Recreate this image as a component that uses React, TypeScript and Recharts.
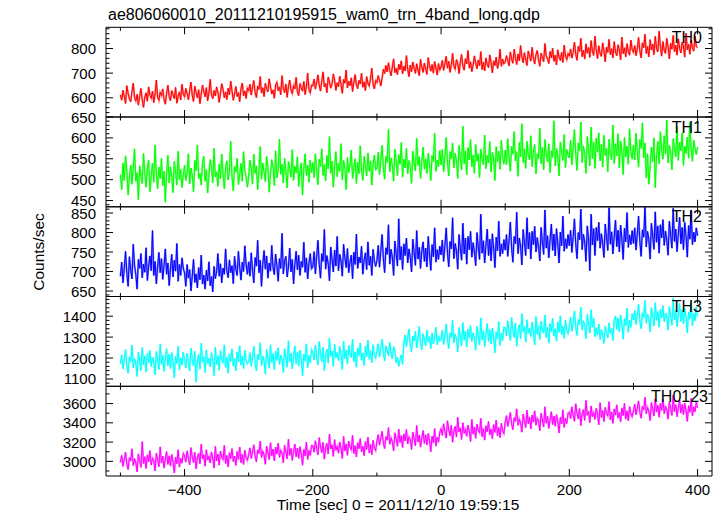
import React from "react";
import { LineChart, Line, XAxis, YAxis } from "recharts";

const W = 723;
const H = 516;
const FONT = "'Liberation Sans', Arial, Helvetica, sans-serif";

// time bins (sec), 2-s bins from -500 to 400
const timeStart = -500;
const binSize = 2;

const th0Values = [
  612, 590, 631, 604, 577, 649, 618, 596, 583, 625,
  659, 601, 587, 614, 570, 607, 638, 592, 561, 603,
  620, 586, 644, 611, 598, 627, 580, 615, 672, 603,
  589, 622, 609, 636, 594, 574, 617, 651, 605, 588,
  629, 613, 597, 642, 578, 606, 624, 591, 655, 616,
  603, 638, 617, 592, 629, 664, 610, 585, 647, 621,
  599, 633, 576, 615, 652, 626, 604, 641, 588, 619,
  675, 612, 596, 630, 607, 644, 623, 581, 618, 657,
  635, 600, 624, 593, 639, 612, 668, 627, 590, 616,
  646, 605, 621, 584, 637, 660, 609, 628, 597, 640,
  628, 655, 611, 643, 670, 622, 601, 648, 634, 686,
  619, 641, 605, 659, 637, 624, 677, 646, 615, 632,
  598, 652, 663, 629, 644, 612, 690, 638, 621, 656,
  602, 645, 672, 631, 617, 649, 636, 683, 624, 609,
  658, 641, 627, 666, 613, 647, 700, 633, 620, 651,
  648, 676, 635, 662, 693, 651, 627, 669, 705, 644,
  658, 621, 684, 666, 639, 655, 697, 672, 630, 661,
  645, 688, 653, 618, 675, 659, 712, 640, 667, 649,
  681, 625, 663, 694, 652, 637, 671, 656, 700, 643,
  665, 629, 686, 658, 647, 678, 720, 654, 636, 670,
  662, 690, 671, 648, 679, 716, 698, 731, 705, 742,
  711, 689, 725, 758, 702, 719, 694, 736, 714, 750,
  697, 728, 709, 771, 715, 686, 733, 706, 745, 720,
  699, 738, 712, 690, 756, 724, 703, 741, 717, 695,
  763, 729, 708, 735, 700, 747, 721, 692, 739, 713,
  725, 752, 711, 739, 768, 720, 748, 703, 734, 781,
  727, 716, 755, 740, 698, 744, 776, 729, 712, 759,
  737, 792, 721, 746, 706, 733, 770, 741, 718, 753,
  730, 787, 714, 745, 709, 762, 736, 722, 774, 743,
  701, 750, 731, 765, 719, 742, 797, 728, 757, 738,
  744, 771, 752, 729, 786, 758, 740, 797, 763, 735,
  778, 750, 812, 766, 742, 783, 756, 731, 790, 768,
  749, 805, 761, 737, 775, 792, 754, 728, 781, 765,
  746, 820, 770, 757, 739, 788, 762, 801, 748, 773,
  733, 795, 767, 751, 784, 743, 814, 769, 755, 779,
  770, 798, 761, 785, 826, 776, 752, 809, 788, 841,
  767, 793, 757, 819, 781, 804, 764, 832, 789, 772,
  850, 795, 759, 811, 780, 768, 823, 791, 746, 806,
  784, 837, 775, 799, 762, 828, 786, 771, 815, 794,
  754, 846, 779, 803, 766, 820, 787, 773, 834, 796,
  784, 812, 771, 799, 845, 790, 762, 823, 803, 858,
  779, 808, 766, 836, 794, 818, 775, 849, 801, 786,
  870, 809, 769, 828, 792, 780, 841, 806, 758, 821,
  797, 853, 787, 813, 773, 839, 800, 782, 826, 810,
  765, 862, 795, 817, 777, 833, 804, 789, 851, 808,
  803,
];

const th1Values = [
  512, 476, 540, 498, 557, 521, 463, 505, 535, 489,
  529, 574, 496, 517, 452, 533, 508, 491, 563, 515,
  482, 528, 547, 471, 510, 539, 494, 583, 513, 478,
  530, 503, 551, 486, 520, 446, 516, 558, 492, 531,
  506, 469, 544, 518, 487, 568, 500, 525, 481, 509,
  535, 498, 517, 562, 490, 528, 509, 471, 546, 521,
  583, 502, 515, 487, 540, 556, 496, 524, 468, 511,
  548, 530, 493, 575, 506, 519, 484, 537, 502, 561,
  514, 478, 529, 545, 499, 520, 592, 507, 473, 532,
  518, 551, 488, 512, 539, 496, 567, 523, 505, 482,
  508, 547, 526, 489, 561, 515, 533, 476, 522, 579,
  501, 540, 518, 495, 556, 529, 470, 512, 548, 531,
  486, 569, 504, 524, 597, 513, 537, 492, 551, 519,
  480, 543, 527, 506, 572, 498, 532, 516, 555, 484,
  521, 540, 463, 528, 562, 510, 535, 494, 547, 517,
  541, 505, 562, 523, 488, 549, 531, 574, 510, 536,
  497, 558, 526, 603, 515, 544, 482, 532, 567, 507,
  539, 520, 586, 499, 546, 528, 476, 553, 517, 535,
  571, 503, 529, 550, 491, 542, 514, 581, 522, 498,
  556, 533, 509, 564, 520, 545, 487, 537, 559, 524,
  527, 566, 512, 548, 582, 530, 501, 556, 541, 620,
  519, 552, 535, 496, 573, 544, 510, 560, 537, 589,
  506, 549, 528, 575, 514, 546, 532, 491, 568, 540,
  521, 599, 534, 555, 503, 542, 578, 525, 550, 515,
  563, 536, 498, 558, 543, 611, 520, 547, 531, 570,
  535, 572, 519, 556, 601, 541, 509, 567, 550, 588,
  528, 563, 545, 503, 582, 553, 523, 628, 538, 569,
  512, 577, 547, 596, 531, 559, 515, 584, 544, 562,
  505, 573, 549, 536, 607, 526, 558, 540, 591, 518,
  565, 552, 498, 579, 543, 568, 525, 594, 554, 537,
  571, 536, 598, 552, 520, 580, 561, 615, 545, 567,
  508, 589, 555, 634, 541, 574, 527, 592, 558, 548,
  605, 531, 566, 584, 514, 562, 550, 623, 538, 577,
  524, 596, 560, 543, 586, 517, 569, 553, 641, 533,
  575, 556, 509, 590, 564, 546, 608, 529, 572, 559,
  552, 594, 536, 578, 620, 560, 522, 588, 569, 638,
  541, 581, 563, 515, 603, 572, 533, 626, 550, 590,
  527, 599, 566, 612, 545, 584, 530, 606, 558, 575,
  519, 597, 561, 548, 631, 539, 586, 557, 610, 528,
  592, 570, 512, 601, 555, 580, 537, 622, 567, 549,
  583, 547, 611, 566, 530, 596, 575, 636, 552, 588,
  504, 562, 489, 531, 578, 543, 600, 481, 557, 592,
  538, 615, 571, 549, 605, 561, 643, 540, 582, 567,
  523, 598, 574, 555, 627, 546, 589, 569, 612, 534,
  580, 563, 602, 551, 638, 572, 544, 594, 576, 560,
  578,
];

const th2Values = [
  688, 724, 671, 709, 752, 695, 662, 738, 705, 681,
  770, 716, 692, 655, 731, 708, 746, 684, 719, 698,
  761, 677, 713, 740, 702, 805, 690, 726, 668, 711,
  749, 697, 733, 680, 715, 758, 693, 722, 664, 707,
  744, 686, 729, 701, 772, 675, 718, 690, 735, 709,
  696, 662, 718, 683, 705, 650, 689, 731, 672, 694,
  658, 710, 679, 742, 668, 691, 655, 703, 676, 725,
  664, 687, 648, 713, 682, 699, 746, 688, 720, 671,
  709, 693, 758, 702, 684, 730, 697, 715, 669, 739,
  706, 690, 752, 711, 678, 724, 700, 766, 717, 693,
  725, 688, 748, 703, 671, 736, 714, 780, 697, 729,
  662, 719, 754, 706, 740, 683, 722, 701, 767, 710,
  692, 745, 716, 675, 733, 708, 798, 694, 727, 739,
  686, 712, 760, 699, 731, 668, 718, 752, 704, 742,
  690, 726, 711, 775, 698, 735, 681, 721, 746, 707,
  712, 751, 694, 738, 780, 719, 683, 746, 726, 808,
  706, 741, 720, 676, 763, 731, 699, 755, 714, 790,
  702, 744, 727, 688, 770, 735, 710, 759, 697, 724,
  742, 681, 750, 718, 796, 708, 737, 722, 765, 693,
  729, 748, 705, 776, 716, 739, 690, 757, 728, 713,
  728, 767, 711, 752, 795, 733, 697, 761, 744, 820,
  719, 757, 737, 690, 778, 746, 714, 835, 730, 764,
  705, 771, 741, 786, 722, 758, 736, 699, 783, 749,
  716, 805, 732, 762, 708, 754, 776, 726, 760, 712,
  790, 743, 703, 769, 738, 812, 724, 756, 731, 765,
  743, 781, 726, 766, 812, 748, 712, 777, 758, 838,
  733, 772, 752, 706, 795, 761, 729, 824, 745, 786,
  719, 790, 756, 803, 737, 774, 750, 715, 800, 764,
  731, 847, 747, 779, 722, 768, 809, 741, 783, 727,
  797, 760, 710, 788, 753, 829, 739, 771, 746, 782,
  755, 795, 739, 779, 827, 761, 724, 790, 771, 852,
  746, 786, 765, 717, 808, 774, 741, 838, 758, 800,
  732, 803, 769, 816, 750, 787, 763, 727, 813, 777,
  744, 858, 760, 792, 735, 781, 822, 754, 796, 740,
  810, 773, 722, 801, 766, 842, 752, 784, 759, 795,
  766, 806, 749, 789, 835, 771, 733, 800, 781, 860,
  756, 796, 775, 726, 817, 784, 702, 847, 768, 810,
  741, 813, 779, 826, 760, 797, 773, 736, 822, 787,
  754, 864, 770, 802, 745, 791, 832, 764, 806, 750,
  819, 783, 731, 811, 776, 851, 762, 794, 769, 805,
  772, 812, 755, 796, 842, 778, 739, 807, 788, 866,
  763, 803, 782, 732, 824, 791, 757, 853, 775, 817,
  747, 820, 786, 833, 767, 804, 780, 742, 829, 794,
  760, 862, 777, 809, 751, 798, 839, 771, 813, 756,
  826, 790, 737, 818, 783, 857, 769, 801, 776, 812,
  792,
];

const th3Values = [
  1172, 1215, 1148, 1193, 1241, 1165, 1127, 1206, 1181, 1262,
  1153, 1198, 1176, 1112, 1228, 1187, 1140, 1251, 1168, 1210,
  1133, 1222, 1178, 1237, 1159, 1203, 1184, 1120, 1232, 1191,
  1145, 1268, 1170, 1213, 1137, 1196, 1245, 1162, 1219, 1150,
  1226, 1183, 1105, 1208, 1174, 1256, 1143, 1201, 1166, 1229,
  1190, 1152, 1224, 1178, 1138, 1247, 1195, 1163, 1232, 1085,
  1186, 1217, 1147, 1271, 1180, 1206, 1131, 1239, 1173, 1199,
  1158, 1226, 1187, 1116, 1252, 1169, 1211, 1142, 1235, 1192,
  1175, 1263, 1155, 1203, 1128, 1220, 1184, 1244, 1161, 1197,
  1139, 1230, 1182, 1258, 1166, 1209, 1149, 1238, 1188, 1172,
  1183, 1226, 1160, 1204, 1255, 1176, 1138, 1217, 1192, 1274,
  1164, 1209, 1187, 1123, 1240, 1198, 1151, 1263, 1179, 1221,
  1144, 1233, 1189, 1249, 1170, 1214, 1195, 1131, 1244, 1202,
  1156, 1282, 1181, 1224, 1148, 1207, 1258, 1173, 1230, 1161,
  1238, 1194, 1116, 1219, 1185, 1268, 1154, 1212, 1177, 1241,
  1228, 1190, 1262, 1205, 1168, 1279, 1220, 1184, 1251, 1140,
  1215, 1243, 1176, 1296, 1209, 1233, 1160, 1266, 1201, 1226,
  1187, 1255, 1213, 1145, 1281, 1197, 1238, 1171, 1260, 1218,
  1203, 1290, 1182, 1230, 1156, 1248, 1211, 1272, 1189, 1224,
  1165, 1257, 1207, 1286, 1194, 1235, 1178, 1264, 1216, 1199,
  1232, 1268, 1205, 1247, 1290, 1222, 1186, 1258, 1236, 1212,
  1275, 1229, 1196, 1251, 1240, 1178, 1203, 1160, 1192, 1215,
  1170, 1275, 1310, 1256, 1298, 1338, 1262, 1231, 1305, 1282,
  1327, 1248, 1291, 1352, 1270, 1240, 1316, 1287, 1259, 1333,
  1276, 1302, 1245, 1320, 1268, 1294, 1347, 1263, 1308, 1281,
  1288, 1332, 1265, 1310, 1362, 1284, 1246, 1321, 1298, 1380,
  1272, 1315, 1293, 1230, 1346, 1305, 1258, 1369, 1285, 1327,
  1252, 1338, 1296, 1355, 1278, 1320, 1301, 1238, 1351, 1309,
  1262, 1392, 1287, 1330, 1255, 1313, 1365, 1280, 1336, 1268,
  1343, 1299, 1225, 1325, 1291, 1374, 1260, 1318, 1283, 1348,
  1345, 1306, 1378, 1322, 1284, 1394, 1337, 1299, 1366, 1257,
  1331, 1359, 1292, 1412, 1326, 1350, 1276, 1383, 1318, 1342,
  1303, 1371, 1329, 1262, 1398, 1313, 1355, 1288, 1376, 1334,
  1319, 1406, 1298, 1347, 1271, 1364, 1327, 1389, 1305, 1340,
  1281, 1373, 1323, 1402, 1310, 1352, 1294, 1381, 1333, 1316,
  1350, 1395, 1328, 1372, 1425, 1346, 1308, 1384, 1361, 1442,
  1334, 1378, 1356, 1293, 1409, 1367, 1320, 1431, 1348, 1390,
  1302, 1345, 1310, 1362, 1288, 1336, 1315, 1270, 1352, 1325,
  1296, 1368, 1318, 1341, 1284, 1380, 1401, 1337, 1392, 1326,
  1406, 1362, 1290, 1388, 1355, 1438, 1323, 1381, 1347, 1412,
  1382, 1428, 1360, 1405, 1457, 1378, 1340, 1416, 1393, 1475,
  1366, 1410, 1388, 1325, 1441, 1399, 1352, 1464, 1380, 1422,
  1347, 1433, 1391, 1450, 1373, 1415, 1396, 1333, 1446, 1404,
  1357, 1487, 1382, 1425, 1350, 1408, 1460, 1375, 1431, 1363,
  1438, 1394, 1320, 1420, 1386, 1469, 1355, 1413, 1378, 1443,
  1400,
];

const th0123Values = [
  2990, 3062, 2948, 3021, 3095, 2972, 2915, 3040, 3003, 3130,
  2957, 3028, 2986, 2890, 3078, 3012, 2938, 3205, 2978, 3049,
  2925, 3067, 2995, 3112, 2962, 3035, 3008, 2901, 3086, 3018,
  2944, 3150, 2983, 3055, 2930, 3025, 3101, 2968, 3058, 2951,
  3072, 2999, 2880, 3044, 2975, 3120, 2940, 3033, 2981, 3084,
  3058, 2992, 3110, 3031, 2965, 3142, 3047, 2988, 3095, 2922,
  3039, 3084, 2975, 3178, 3026, 3069, 2950, 3121, 3013, 3052,
  2983, 3098, 3035, 2930, 3155, 3005, 3076, 2961, 3107, 3044,
  3018, 3166, 2979, 3060, 2942, 3090, 3028, 3133, 2997, 3055,
  2958, 3102, 3021, 3149, 2986, 3072, 2968, 3116, 3037, 3010,
  3072, 3140, 3030, 3098, 3172, 3055, 2995, 3120, 3081, 3210,
  3040, 3106, 3066, 2970, 3158, 3092, 3018, 3195, 3058, 3128,
  3005, 3147, 3075, 3190, 3042, 3115, 3088, 2985, 3166, 3097,
  3024, 3230, 3063, 3135, 3010, 3104, 3180, 3048, 3138, 3032,
  3152, 3079, 2960, 3124, 3056, 3200, 3020, 3113, 3061, 3164,
  3162, 3095, 3214, 3133, 3067, 3246, 3150, 3090, 3198, 3022,
  3141, 3187, 3076, 3282, 3128, 3172, 3052, 3225, 3115, 3155,
  3085, 3201, 3137, 3030, 3259, 3107, 3179, 3063, 3210, 3147,
  3120, 3270, 3081, 3163, 3045, 3193, 3131, 3237, 3099, 3158,
  3060, 3205, 3124, 3252, 3088, 3175, 3070, 3219, 3140, 3112,
  3210, 3278, 3168, 3236, 3312, 3193, 3133, 3258, 3219, 3350,
  3178, 3244, 3204, 3108, 3296, 3230, 3156, 3335, 3196, 3266,
  3143, 3285, 3213, 3330, 3180, 3253, 3226, 3123, 3304, 3235,
  3162, 3372, 3201, 3273, 3148, 3242, 3320, 3186, 3276, 3170,
  3290, 3217, 3100, 3262, 3194, 3340, 3158, 3251, 3199, 3302,
  3338, 3270, 3390, 3309, 3242, 3422, 3326, 3266, 3374, 3198,
  3317, 3363, 3252, 3458, 3304, 3348, 3228, 3401, 3291, 3331,
  3261, 3377, 3313, 3206, 3435, 3283, 3355, 3239, 3386, 3323,
  3296, 3446, 3257, 3339, 3221, 3369, 3307, 3413, 3275, 3334,
  3236, 3381, 3300, 3428, 3264, 3351, 3246, 3395, 3316, 3288,
  3405, 3474, 3363, 3431, 3508, 3389, 3328, 3453, 3414, 3545,
  3373, 3440, 3399, 3303, 3491, 3425, 3351, 3530, 3391, 3461,
  3338, 3480, 3408, 3525, 3375, 3448, 3421, 3318, 3499, 3430,
  3357, 3567, 3396, 3468, 3343, 3437, 3515, 3381, 3471, 3365,
  3485, 3412, 3295, 3457, 3389, 3535, 3353, 3446, 3394, 3497,
  3512, 3444, 3566, 3483, 3416, 3598, 3500, 3440, 3548, 3372,
  3491, 3537, 3426, 3632, 3478, 3522, 3402, 3575, 3465, 3505,
  3435, 3551, 3487, 3380, 3609, 3457, 3529, 3413, 3560, 3497,
  3470, 3620, 3431, 3513, 3395, 3543, 3481, 3587, 3449, 3508,
  3410, 3555, 3474, 3602, 3438, 3525, 3420, 3569, 3490, 3462,
  3525, 3594, 3483, 3551, 3628, 3509, 3448, 3573, 3534, 3665,
  3493, 3560, 3519, 3423, 3611, 3545, 3471, 3650, 3511, 3581,
  3458, 3600, 3528, 3645, 3495, 3568, 3541, 3438, 3619, 3550,
  3477, 3687, 3516, 3588, 3463, 3557, 3635, 3501, 3591, 3485,
  3605, 3532, 3415, 3577, 3509, 3655, 3473, 3566, 3514, 3617,
  3555,
];

// axis tick labels
const xMajorTicks = [-400, -200, 0, 200, 400];
const xAllTicks = [-500, -400, -300, -200, -100, 0, 100, 200, 300, 400];
const X_DOMAIN: [number, number] = [-522.5, 422.5];

const th0Majors = [600, 700, 800];
const th1Majors = [450, 500, 550, 600, 650];
const th2Majors = [650, 700, 750, 800, 850];
const th3Majors = [1100, 1200, 1300, 1400];
const th0123Majors = [3000, 3200, 3400, 3600];

const panelLabels = ["TH0", "TH1", "TH2", "TH3", "TH0123"];
const colors = ["#ff0000", "#00ff00", "#0000ff", "#00ffff", "#ff00ff"];
const haloColors = ["#ff8c8c", "#8cff8c", "#8c8cff", "#8cffff", "#ff8cff"];

function minorRange(lo: number, hi: number, step: number) {
  const out: number[] = [];
  const start = Math.ceil(lo / step) * step;
  for (let v = start; v <= hi + 1e-9; v += step) out.push(v);
  return out;
}

const PLOT_LEFT = 106;
const PLOT_RIGHT = 712;
const panelEdges = [27.3, 117.0, 206.8, 296.5, 386.3, 476];

const panels = [
  { values: th0Values, domain: [522, 886], majors: th0Majors, minor: 20, labelX: 702 },
  { values: th1Values, domain: [435, 650], majors: th1Majors, minor: 10, labelX: 702 },
  { values: th2Values, domain: [636, 866], majors: th2Majors, minor: 10, labelX: 702 },
  { values: th3Values, domain: [1065, 1494], majors: th3Majors, minor: 20, labelX: 702 },
  { values: th0123Values, domain: [2848, 3779], majors: th0123Majors, minor: 100, labelX: 708 },
];

const makeYTick = (majors: number[], side: "left" | "right") => (props: any) => {
  const { x, y, payload } = props;
  const v = payload.value;
  const isMajor = majors.includes(v);
  const len = isMajor ? 7 : 3.5;
  const dir = side === "left" ? 1 : -1;
  return (
    <g>
      <line x1={x} y1={y} x2={x + dir * len} y2={y} stroke="#000" strokeWidth={1} />
      {side === "left" && isMajor ? (
        <text x={x - 10} y={y} textAnchor="end" dominantBaseline="central" fontSize={15} fontFamily={FONT} fill="#000">
          {v}
        </text>
      ) : null}
    </g>
  );
};

const makeXTick = (side: "top" | "bottom", showLabels: boolean) => (props: any) => {
  const { x, y, payload } = props;
  const v = payload.value;
  const isMajor = xMajorTicks.includes(v);
  const len = isMajor ? 7 : 3.5;
  const dir = side === "bottom" ? -1 : 1;
  return (
    <g>
      <line x1={x} y1={y} x2={x} y2={y + dir * len} stroke="#000" strokeWidth={1} />
      {showLabels && isMajor ? (
        <text x={x} y={y + 13} textAnchor="middle" dominantBaseline="central" fontSize={15} fontFamily={FONT} fill="#000">
          {v < 0 ? "\u2212" + Math.abs(v) : String(v)}
        </text>
      ) : null}
    </g>
  );
};

function Panel({ idx }: { idx: number }) {
  const p = panels[idx];
  const top = panelEdges[idx];
  const bottom = panelEdges[idx + 1];
  const data = p.values.map((v, i) => ({ t: timeStart + i * binSize, v }));
  const yTicks = minorRange(p.domain[0], p.domain[1], p.minor);
  const isLast = idx === panels.length - 1;
  return (
    <div style={{ position: "absolute", left: 0, top: 0 }}>
      <LineChart
        width={W}
        height={H}
        data={data}
        margin={{ top: top - 1, bottom: H - bottom - 1, left: PLOT_LEFT - 40, right: W - PLOT_RIGHT - 1 }}
      >
        <XAxis
          xAxisId="b"
          dataKey="t"
          type="number"
          orientation="bottom"
          domain={X_DOMAIN}
          allowDataOverflow
          ticks={xAllTicks}
          interval={0}
          height={1}
          tickSize={0}
          tickMargin={0}
          tickLine={false}
          axisLine={{ stroke: "#000", strokeWidth: 1 }}
          tick={makeXTick("bottom", isLast)}
        />
        <XAxis
          xAxisId="t"
          dataKey="t"
          type="number"
          orientation="top"
          domain={X_DOMAIN}
          allowDataOverflow
          ticks={xAllTicks}
          interval={0}
          height={1}
          tickSize={0}
          tickMargin={0}
          tickLine={false}
          axisLine={{ stroke: "#000", strokeWidth: 1 }}
          tick={makeXTick("top", false)}
        />
        <YAxis
          yAxisId="l"
          type="number"
          orientation="left"
          domain={p.domain}
          allowDataOverflow
          ticks={yTicks}
          interval={0}
          width={40}
          tickSize={0}
          tickMargin={0}
          tickLine={false}
          axisLine={{ stroke: "#000", strokeWidth: 1 }}
          tick={makeYTick(p.majors, "left")}
        />
        <YAxis
          yAxisId="r"
          type="number"
          orientation="right"
          domain={p.domain}
          allowDataOverflow
          ticks={yTicks}
          interval={0}
          width={1}
          tickSize={0}
          tickMargin={0}
          tickLine={false}
          axisLine={{ stroke: "#000", strokeWidth: 1 }}
          tick={makeYTick(p.majors, "right")}
        />
        <Line
          xAxisId="b"
          yAxisId="l"
          dataKey="v"
          type="linear"
          stroke={haloColors[idx]}
          strokeWidth={2}
          dot={false}
          activeDot={false}
          isAnimationActive={false}
        />
        <Line
          xAxisId="b"
          yAxisId="l"
          dataKey="v"
          type="linear"
          stroke={colors[idx]}
          strokeWidth={1}
          dot={false}
          activeDot={false}
          isAnimationActive={false}
        />
      </LineChart>
    </div>
  );
}

export default function App() {
  return (
    <div style={{ position: "absolute", left: 0, top: 0, width: W, height: H, background: "#fff", overflow: "hidden" }}>
      {panels.map((_, i) => (
        <Panel key={i} idx={i} />
      ))}
      <svg width={W} height={H} style={{ position: "absolute", left: 0, top: 0, pointerEvents: "none" }}>
        <text x={108} y={20} fontSize={16} fontFamily={FONT} fill="#000">
          ae806060010_20111210195915_wam0_trn_4band_long.qdp
        </text>
        <text
          x={0}
          y={0}
          transform="translate(44 252) rotate(-90)"
          textAnchor="middle"
          fontSize={15.5}
          fontFamily={FONT}
          fill="#000"
        >
          Counts/sec
        </text>
        <text x={398} y={510} textAnchor="middle" fontSize={15.5} fontFamily={FONT} fill="#000">
          Time [sec] 0 = 2011/12/10 19:59:15
        </text>
        {panelLabels.map((lab, i) => (
          <text
            key={lab}
            x={panels[i].labelX}
            y={panelEdges[i] + 10}
            textAnchor="end"
            dominantBaseline="central"
            fontSize={16}
            fontFamily={FONT}
            fill="#000"
          >
            {lab}
          </text>
        ))}
      </svg>
    </div>
  );
}
